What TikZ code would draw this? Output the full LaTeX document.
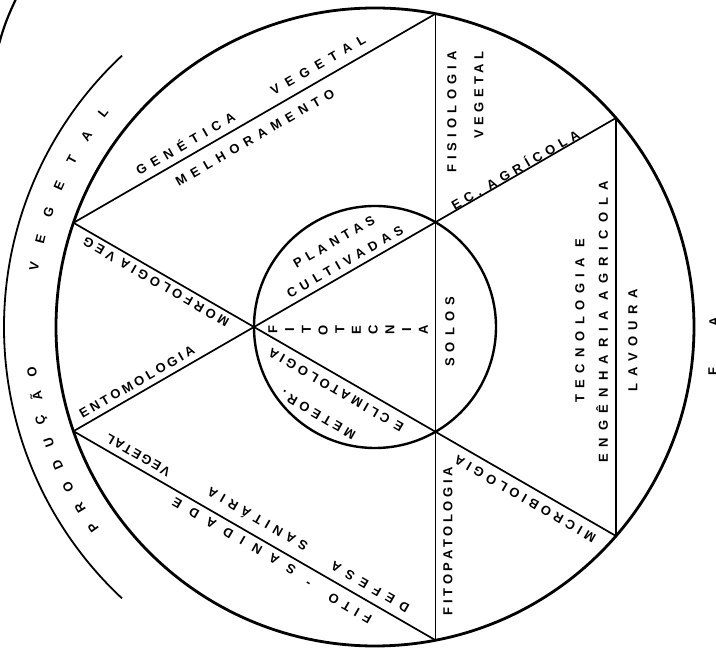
\documentclass[tikz,border=0pt]{standalone}
\usepackage{fontspec}
\newfontfamily\lettering{Liberation Sans Bold}
\begin{document}
\begin{tikzpicture}[x=1pt,y=1pt,
  lbl/.style={font={\lettering\fontsize{13}{15}\selectfont\addfontfeatures{LetterSpace=#1}}, inner sep=0pt, anchor=center},
  lbl/.default=0,
  bigc/.style={draw, circle, line width=2.8pt, inner sep=0pt},
  smallc/.style={draw, circle, line width=2.4pt, inner sep=0pt},
  chord/.style={line width=1.7pt},
  thinchord/.style={line width=1.2pt},
  outerarc/.style={line width=1.8pt}]
\useasboundingbox (-375,-325) rectangle (341,327);
% circles
\node[bigc, minimum size=638pt] (big) at (0,0) {};
\node[smallc, minimum size=242pt] (small) at (0,0) {};
% vertices
\coordinate (I1) at (-121,0);
\coordinate (I2) at (60.5,104.8);
\coordinate (I3) at (60.5,-104.8);
\coordinate (T) at (60.5,313.2);
\coordinate (B) at (60.5,-313.2);
\coordinate (UR) at (241,209);
\coordinate (LR) at (241,-209);
\coordinate (UL) at (-301.5,104.2);
\coordinate (LL) at (-301.5,-104.2);
% chords
\draw[chord] (UL) -- (T);
\draw[chord] (UL) -- (LR);
\draw[chord] (LL) -- (UR);
\draw[chord] (LL) -- (B);
\draw[chord] (T) -- (B);
\draw[thinchord] (UR) -- (LR);
% outer arc
\draw[outerarc] (133:371) arc[start angle=133, end angle=227, radius=371];
% corner fragment
\coordinate (f1) at (-376,283);
\coordinate (f2) at (-359,328);
\draw[line width=2.2pt] (f1) to[bend left=5] (f2);
% arc lettering
\foreach \ch [count=\i] in {P,R,O,D,U,Ç,Ã,O}
  \node[lbl, rotate={125.5-4*(\i-1)}] (pv\i) at ({215.5-4*(\i-1)}:346) {\ch};
\foreach \ch [count=\i] in {V,E,G,E,T,A,L}
  \node[lbl, rotate={80-4.7*(\i-1)}] (vg\i) at ({170-4.7*(\i-1)}:346) {\ch};
% upper segment
\node[lbl=49, rotate=30] (gen) at (-190,184) {GENÉTICA};
\node[lbl=60, rotate=30] (veg1) at (-57,262) {VEGETAL};
\node[lbl=48, rotate=30] (mel) at (-120,189.5) {MELHORAMENTO};
\node[lbl=40, rotate=90] (fis) at (77,215) {FISIOLOGIA};
\node[lbl=34, rotate=90] (veg2) at (104,232) {VEGETAL};
\node[lbl=39, rotate=30] (eca) at (140,158) {EC. AGRÍCOLA};
% inner circle
\node[lbl=40, rotate=30] (pla) at (-41,85) {PLANTAS};
\node[lbl=43, rotate=30] (cul) at (-30,65) {CULTIVADAS};
\node[lbl=47, rotate=90] (sol) at (75,-5) {SOLOS};
\foreach \ch [count=\i] in {F,I,T,O,T,E,C,N,I,A}
  \node[lbl, rotate=90] (ft\i) at ({-102+16.7*(\i-1)},-3) {\ch};
\node[lbl=32, rotate=150] (met) at (-57,-88) {METEOR.};
\node[lbl=27, rotate=150] (cli) at (-39,-63) {E CLIMATOLOGIA};
% left wedge
\node[lbl=29, rotate=150] (mor) at (-219,45) {MORFOLOGIA VEG};
\node[lbl=25, rotate=30] (ent) at (-238,-55) {ENTOMOLOGIA};
% lower-left segment
\node[lbl=54, rotate=150] (def) at (-5,-260) {DEFESA};
\node[lbl=41, rotate=150] (san) at (-118,-193) {SANITÁRIA};
\node[lbl=15, rotate=150] (veg3) at (-237,-128) {VEGETAL};
\node[lbl=47, rotate=150] (fito) at (-25,-281) {FITO};
\node[lbl, rotate=150] (dash) at (-66,-255) {-};
\node[lbl=79, rotate=150] (sni) at (-141,-209) {SANIDADE};
% lower right
\node[lbl=28, rotate=90] (fpa) at (73,-214) {FITOPATOLOGIA};
\node[lbl=34, rotate=150] (mic) at (150,-172) {MICROBIOLOGIA};
% right wedge
\node[lbl=50, rotate=90] (tec) at (205,6) {TECNOLOGIA E};
\node[lbl=55, rotate=90] (eng) at (227,5) {ENGÊNHARIA AGRICOLA};
\node[lbl=50, rotate=90] (lav) at (258,-13) {LAVOURA};
% edge fragments
\node[lbl, rotate=90] (ea) at (339,5) {A};
\node[lbl, rotate=90] (ef) at (338,-45) {F};
\end{tikzpicture}
\end{document}
